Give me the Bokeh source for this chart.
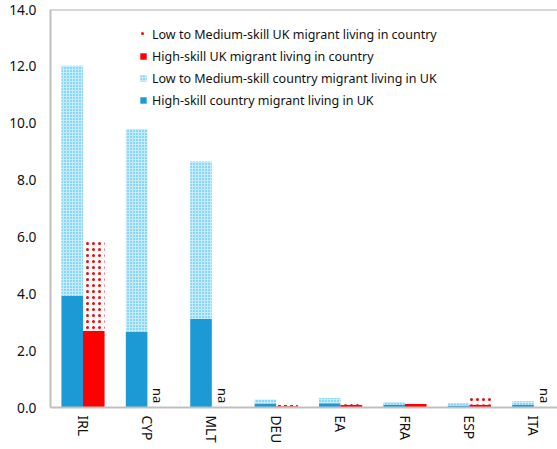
import math
from bokeh.plotting import figure
from bokeh.models import (ColumnDataSource, FixedTicker, Range1d, Legend, LegendItem, Span)
from bokeh.core.properties import value
from bokeh.embed import file_html
from bokeh.resources import INLINE

countries = ["IRL", "CYP", "MLT", "DEU", "EA", "FRA", "ESP", "ITA"]
hs_country_in_uk = [3.92, 2.66, 3.12, 0.14, 0.15, 0.09, 0.07, 0.09]
lm_country_in_uk = [8.10, 7.14, 5.53, 0.14, 0.18, 0.10, 0.08, 0.13]
hs_uk_in_country = [2.70, float("nan"), float("nan"), 0.04, 0.09, 0.12, 0.10, float("nan")]
lm_uk_in_country = [3.18, float("nan"), float("nan"), 0.05, 0.13, 0.10, 0.26, float("nan")]
y_ticks = [0, 2, 4, 6, 8, 10, 12, 14]

FONT = "Noto Sans"
FS = "12.5px"
FS_AX = "13.8px"
TXT = "#111111"
BLUE = "#1b9ad6"
RED = "#ff0000"

pos = list(range(len(countries)))
bw = 0.335
off = bw / 2

src = ColumnDataSource(dict(
    xb=[p - off for p in pos],
    xr=[p + off for p in pos],
    hs_c=hs_country_in_uk,
    lm_c_top=[a + b for a, b in zip(hs_country_in_uk, lm_country_in_uk)],
    hs_u=hs_uk_in_country,
    lm_u_top=[a + b for a, b in zip(hs_uk_in_country, lm_uk_in_country)],
))

px_per_unit = 64.4
frame_w = 507
x_start = -32.5 / px_per_unit
x_end = x_start + frame_w / px_per_unit

p = figure(width=557, height=449, output_backend="svg", toolbar_location=None,
           x_range=Range1d(x_start, x_end), y_range=Range1d(0, 14),
           min_border_left=50, min_border_right=0, min_border_top=9, min_border_bottom=42)
p.outline_line_color = None
p.xgrid.grid_line_color = None
p.ygrid.grid_line_color = None
p.background_fill_color = "white"

r_hs_c = p.vbar(x="xb", bottom=0, top="hs_c", width=bw, source=src,
                fill_color=BLUE, line_color=None)
r_lm_c = p.vbar(x="xb", bottom="hs_c", top="lm_c_top", width=bw, source=src,
                fill_color="#c6ebfb", line_color=None,
                hatch_pattern=".", hatch_color="#2cb6ee", hatch_scale=3, hatch_weight=1.4)
r_hs_u = p.vbar(x="xr", bottom=0, top="hs_u", width=bw, source=src,
                fill_color=RED, line_color=None)
r_lm_u = p.vbar(x="xr", bottom="hs_u", top="lm_u_top", width=bw, source=src,
                fill_color="white", line_color=None,
                hatch_pattern=".", hatch_color=RED, hatch_scale=6, hatch_weight=1.8)

# "na" markers where UK-migrant data are missing
na_x = [p_ + off for p_, v in zip(pos, hs_uk_in_country) if isinstance(v, float) and math.isnan(v)]
p.text(x=na_x, y=[0.15] * len(na_x), text=["na"] * len(na_x), angle=-math.pi / 2,
       text_align="right", text_baseline="middle", text_font=value(FONT),
       text_font_size="13px", text_color=TXT)

top_line = Span(location=14, dimension="width", line_color="#b0b0b0", line_width=2)
p.add_layout(top_line)

p.yaxis.ticker = FixedTicker(ticks=y_ticks)
p.yaxis.major_label_overrides = {t: f"{t:.1f}" for t in y_ticks}
p.yaxis.axis_line_color = "#bfbfbf"
p.yaxis.axis_line_width = 2
p.yaxis.major_tick_line_color = None
p.yaxis.minor_tick_line_color = None
p.yaxis.major_tick_out = 0
p.yaxis.major_tick_in = 0
p.yaxis.minor_tick_out = 0
p.yaxis.major_label_standoff = 14
p.yaxis.major_label_text_font = FONT
p.yaxis.major_label_text_font_size = FS_AX
p.yaxis.major_label_text_color = TXT

p.xaxis.ticker = FixedTicker(ticks=pos)
p.xaxis.major_label_overrides = {i: c for i, c in enumerate(countries)}
p.xaxis.major_label_orientation = "vertical"
p.xaxis.axis_line_color = "#bfbfbf"
p.xaxis.axis_line_width = 2
p.xaxis.major_tick_line_color = None
p.xaxis.minor_tick_line_color = None
p.xaxis.major_tick_out = 0
p.xaxis.major_tick_in = 0
p.xaxis.minor_tick_out = 0
p.xaxis.major_label_standoff = 8
p.xaxis.major_label_text_font = FONT
p.xaxis.major_label_text_font_size = FS_AX
p.xaxis.major_label_text_color = TXT

legend = Legend(items=[
    LegendItem(label="Low to Medium-skill UK migrant living in country", renderers=[r_lm_u]),
    LegendItem(label="High-skill UK migrant living in country", renderers=[r_hs_u]),
    LegendItem(label="Low to Medium-skill country migrant living in UK", renderers=[r_lm_c]),
    LegendItem(label="High-skill country migrant living in UK", renderers=[r_hs_c]),
], location=(89, 297))
legend.padding = 0
legend.margin = 0
legend.spacing = 2
legend.label_height = 20
legend.glyph_height = 8
legend.glyph_width = 8
legend.label_standoff = 5
legend.border_line_color = None
legend.background_fill_alpha = 0
legend.label_text_font = FONT
legend.label_text_font_size = FS
legend.label_text_color = TXT
p.add_layout(legend)

open("out.html", "w").write(file_html(p, INLINE))
